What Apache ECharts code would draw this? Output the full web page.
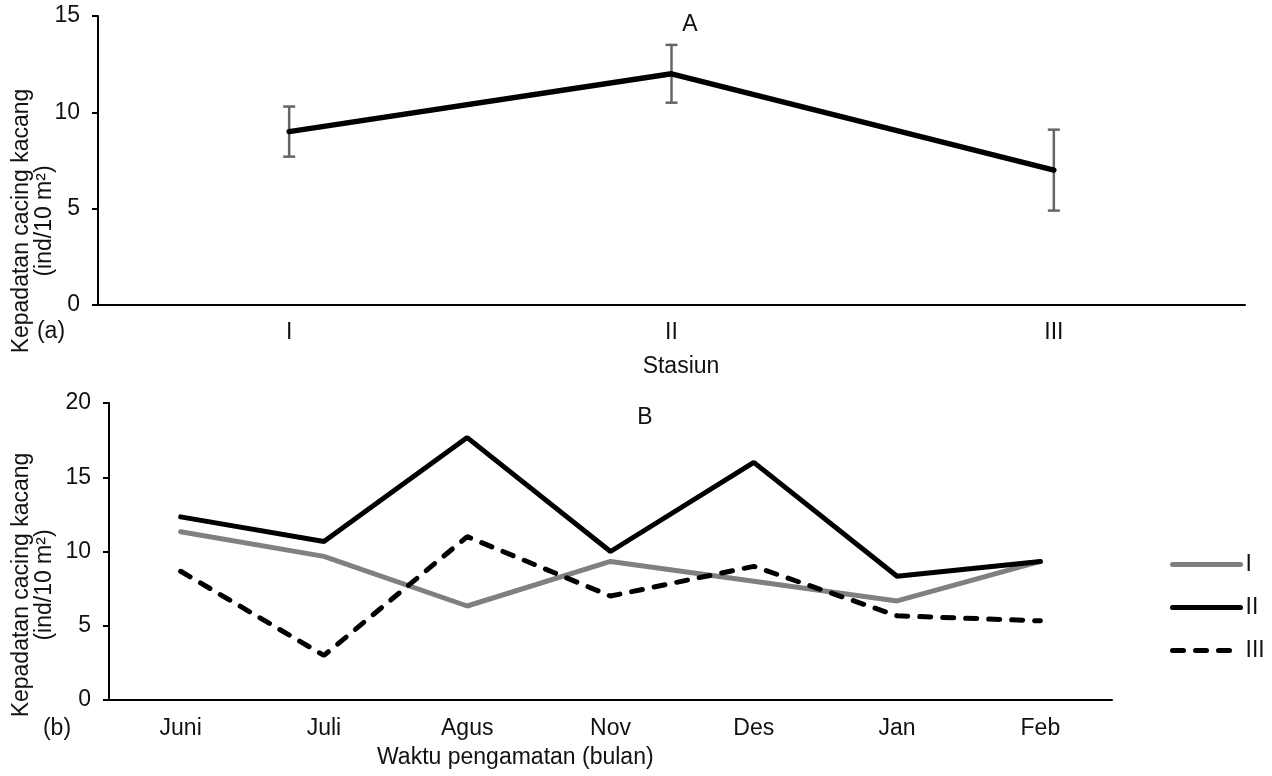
<!DOCTYPE html>
<html><head><meta charset="utf-8">
<script src="https://cdn.jsdelivr.net/npm/echarts@6/dist/echarts.min.js"></script>
<style>html,body{margin:0;padding:0;background:#fff}#c{width:1272px;height:776px}</style>
</head><body><div id="c"></div>
<script>
// ---- data ----
const stations = ['I', 'II', 'III'];
const stationMean = [9, 12, 7];
const stationErr = [1.3, 1.5, 2.1];
const months = ['Juni', 'Juli', 'Agus', 'Nov', 'Des', 'Jan', 'Feb'];
const seriesI = [11.33, 9.67, 6.33, 9.33, 8.0, 6.67, 9.33];
const seriesII = [12.33, 10.67, 17.67, 10.0, 16.0, 8.33, 9.33];
const seriesIII = [8.67, 3.0, 11.0, 7.0, 9.0, 5.67, 5.33];
const seriesNames = ['I', 'II', 'III'];
const yTitle = 'Kepadatan cacing kacang\n(ind/10 m²)';

const FONT = "'Liberation Sans', Arial, sans-serif";
const FS = 23;
const TXT = '#111';

const chart = echarts.init(document.getElementById('c'));

const axisLineStyle = { show: true, lineStyle: { color: '#000', width: 2 } };

const errData = stations.map((s, i) => [i, stationMean[i] - stationErr[i], stationMean[i] + stationErr[i]]);

const option = {
  animation: false,
  backgroundColor: '#fff',
  textStyle: { fontFamily: FONT },
  grid: [
    { left: 98, top: 16, right: 27, height: 289 },
    { left: 109, top: 403, right: 160, height: 297 }
  ],
  xAxis: [
    { type: 'category', gridIndex: 0, data: stations, boundaryGap: true,
      axisLine: axisLineStyle, axisTick: { show: false },
      axisLabel: { color: TXT, fontSize: FS, fontFamily: FONT, margin: 16 } },
    { type: 'category', gridIndex: 1, data: months, boundaryGap: true,
      axisLine: axisLineStyle, axisTick: { show: false },
      axisLabel: { color: TXT, fontSize: FS, fontFamily: FONT, margin: 17 } }
  ],
  yAxis: [
    { type: 'value', gridIndex: 0, min: 0, max: 15, interval: 5,
      axisLine: axisLineStyle, axisTick: { show: true, length: 6, lineStyle: { color: '#000', width: 2 } },
      splitLine: { show: false },
      axisLabel: { color: TXT, fontSize: FS, fontFamily: FONT, margin: 18 } },
    { type: 'value', gridIndex: 1, min: 0, max: 20, interval: 5,
      axisLine: axisLineStyle, axisTick: { show: true, length: 6, lineStyle: { color: '#000', width: 2 } },
      splitLine: { show: false },
      axisLabel: { color: TXT, fontSize: FS, fontFamily: FONT, margin: 18 } }
  ],
  legend: {
    data: [
      { name: seriesNames[0], lineStyle: { color: '#808080', width: 5, cap: 'round', type: 'solid' } },
      { name: seriesNames[1], lineStyle: { color: '#000', width: 5, cap: 'round', type: 'solid' } },
      { name: seriesNames[2], lineStyle: { color: '#000', width: 5, cap: 'round', type: [11, 12] } }
    ],
    orient: 'vertical',
    left: 1170, top: 553, padding: 0,
    itemWidth: 68, itemHeight: 22, itemGap: 20,
    itemStyle: { opacity: 0 },
    textStyle: { color: TXT, fontSize: FS, fontFamily: FONT, lineHeight: 22 }
  },
  series: [
    { type: 'custom', xAxisIndex: 0, yAxisIndex: 0, data: errData, z: 2,
      renderItem: function (params, api) {
        const x = api.value(0);
        const lo = api.coord([x, api.value(1)]);
        const hi = api.coord([x, api.value(2)]);
        const hw = 6;
        const st = { stroke: '#666', lineWidth: 2.5, fill: 'none' };
        return { type: 'group', children: [
          { type: 'line', shape: { x1: lo[0], y1: lo[1], x2: hi[0], y2: hi[1] }, style: st },
          { type: 'line', shape: { x1: lo[0] - hw, y1: lo[1], x2: lo[0] + hw, y2: lo[1] }, style: st },
          { type: 'line', shape: { x1: hi[0] - hw, y1: hi[1], x2: hi[0] + hw, y2: hi[1] }, style: st }
        ] };
      } },
    { type: 'line', name: 'A', xAxisIndex: 0, yAxisIndex: 0, data: stationMean, symbol: 'none', z: 3,
      lineStyle: { color: '#000', width: 5.5, cap: 'round' } },
    { type: 'line', name: seriesNames[0], xAxisIndex: 1, yAxisIndex: 1, data: seriesI, symbol: 'none',
      itemStyle: { color: '#808080' },
      lineStyle: { color: '#808080', width: 5, cap: 'round' } },
    { type: 'line', name: seriesNames[1], xAxisIndex: 1, yAxisIndex: 1, data: seriesII, symbol: 'none',
      itemStyle: { color: '#000' },
      lineStyle: { color: '#000', width: 5, cap: 'round' } },
    { type: 'line', name: seriesNames[2], xAxisIndex: 1, yAxisIndex: 1, data: seriesIII, symbol: 'none',
      itemStyle: { color: '#000' },
      lineStyle: { color: '#000', width: 5, type: [11, 12], cap: 'round' } }
  ],
  graphic: [
    { type: 'text', x: 33, y: 221, rotation: Math.PI / 2,
      style: { text: yTitle, font: FS + 'px ' + FONT, fill: TXT, align: 'center', verticalAlign: 'middle', lineHeight: 23 } },
    { type: 'text', x: 33, y: 585, rotation: Math.PI / 2,
      style: { text: yTitle, font: FS + 'px ' + FONT, fill: TXT, align: 'center', verticalAlign: 'middle', lineHeight: 23 } },
    { type: 'text', x: 51, y: 332, style: { text: '(a)', font: FS + 'px ' + FONT, fill: TXT, align: 'center', verticalAlign: 'middle' } },
    { type: 'text', x: 57, y: 729, style: { text: '(b)', font: FS + 'px ' + FONT, fill: TXT, align: 'center', verticalAlign: 'middle' } },
    { type: 'text', x: 690, y: 25, style: { text: 'A', font: FS + 'px ' + FONT, fill: TXT, align: 'center', verticalAlign: 'middle' } },
    { type: 'text', x: 645, y: 418, style: { text: 'B', font: FS + 'px ' + FONT, fill: TXT, align: 'center', verticalAlign: 'middle' } },
    { type: 'text', x: 681, y: 367, style: { text: 'Stasiun', font: FS + 'px ' + FONT, fill: TXT, align: 'center', verticalAlign: 'middle' } },
    { type: 'text', x: 377, y: 758, style: { text: 'Waktu pengamatan (bulan)', font: FS + 'px ' + FONT, fill: TXT, align: 'left', verticalAlign: 'middle' } }
  ]
};
chart.setOption(option);
</script>
</body></html>
